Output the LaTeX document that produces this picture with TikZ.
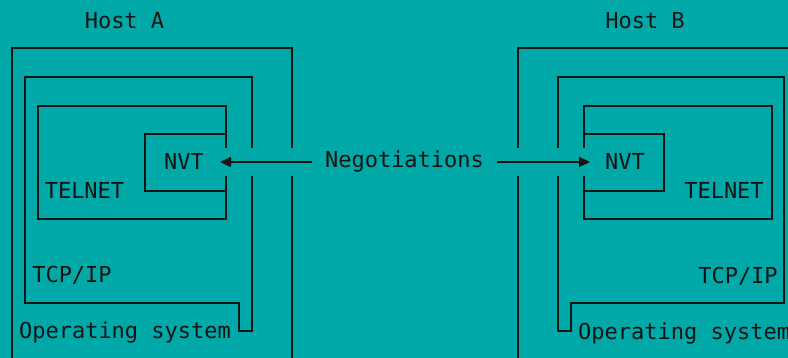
\documentclass[tikz,border=0pt]{standalone}
\usepackage{fontspec}
\setmonofont{DejaVu Sans Mono}
\usetikzlibrary{arrows.meta}
\definecolor{bg}{RGB}{0,168,168}
\definecolor{ink}{RGB}{20,20,20}
\begin{document}
\begin{tikzpicture}[x=1pt,y=-1pt,
  wall/.style={line width=1.6pt, draw=ink},
  lbl/.style={font=\ttfamily\fontsize{22}{26}\selectfont, inner sep=0pt, text=ink, anchor=base},
  negarrow/.style={wall, -{Triangle[length=11pt,width=10pt]}}]
\useasboundingbox (0,0) rectangle (788,358);
\fill[bg] (0,0) rectangle (788,358);
\clip (0,0) rectangle (788,358);
% ---------- Host A ----------
\draw[wall] (292,148) -- (292,48) -- (12,48) -- (12,364);
\draw[wall] (292,176) -- (292,364);
\draw[wall] (252,148) -- (252,77) -- (25,77) -- (25,303) -- (239,303) -- (239,331) -- (252,331) -- (252,176);
\draw[wall] (226,148) -- (226,106) -- (38,106) -- (38,219) -- (226,219) -- (226,176);
\draw[wall] (226,134) -- (145,134) -- (145,191) -- (226,191);
\node[lbl] (hostA) at (124.5,29) {Host A};
\node[lbl] (nvtA) at (184,170) {NVT};
\node[lbl] (telnetA) at (84.5,199) {TELNET};
\node[lbl] (tcpA) at (72,283) {TCP/IP};
\node[lbl] (osA) at (125,339) {Operating system};
\coordinate (portA) at (220,162);
% ---------- Host B ----------
\draw[wall] (518,148) -- (518,48) -- (792,48);
\draw[wall] (518,176) -- (518,364);
\draw[wall] (558,148) -- (558,77) -- (784,77) -- (784,303) -- (571,303) -- (571,331) -- (558,331) -- (558,176);
\draw[wall] (584,148) -- (584,106) -- (772,106) -- (772,219) -- (584,219) -- (584,176);
\draw[wall] (584,134) -- (664,134) -- (664,191) -- (584,191);
\node[lbl] (hostB) at (645,29) {Host B};
\node[lbl] (nvtB) at (625,170) {NVT};
\node[lbl] (telnetB) at (724,199) {TELNET};
\node[lbl] (tcpB) at (738,284) {TCP/IP};
\node[lbl, anchor=base west] (osB) at (578,340) {Operating system};
\coordinate (portB) at (590,162);
% ---------- Negotiations ----------
\node[lbl, inner xsep=13pt] (neg) at (404.5,168) {Negotiations};
\draw[negarrow] (neg.west |- portA) -- (portA);
\draw[negarrow] (neg.east |- portB) -- (portB);
\end{tikzpicture}
\end{document}
